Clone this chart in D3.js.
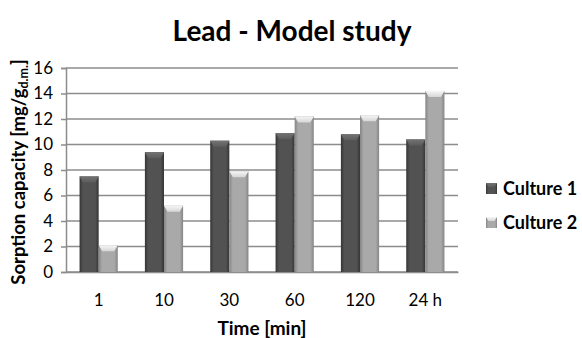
<!DOCTYPE html>
<html>
<head>
<meta charset="utf-8">
<script src="https://cdn.jsdelivr.net/npm/d3@7"></script>
<style>
  html, body { margin: 0; padding: 0; background: #fff; }
  svg { display: block; font-family: Lato, "Open Sans", sans-serif; }
</style>
</head>
<body>
<svg id="chart" width="582" height="338"></svg>
<script>
const categories = ["1", "10", "30", "60", "120", "24 h"];
const seriesNames = ["Culture 1", "Culture 2"];
const culture1 = [7.5, 9.4, 10.3, 10.9, 10.8, 10.4];
const culture2 = [2.1, 5.2, 7.9, 12.2, 12.3, 14.2];
const yTicks = [0, 2, 4, 6, 8, 10, 12, 14, 16];

const svg = d3.select("#chart");
const margin = { left: 66, right: 124, top: 68, bottom: 66 };
const W = 582, H = 338;

const x = d3.scaleBand().domain(categories).range([margin.left, W - margin.right]).paddingInner(0).paddingOuter(0);
const xs = d3.scaleBand().domain(seriesNames).range([0, x.bandwidth()]).paddingInner(0).paddingOuter(0.71);
const y = d3.scaleLinear().domain([0, 16]).range([H - margin.bottom, margin.top]);

// gradients for the bevelled bars
const defs = svg.append("defs");
const styles = [
  { id: "g0", edge: "#353535", mid: "#525252", cap: "#737373", capEdge: "#5c5c5c" },
  { id: "g1", edge: "#858585", mid: "#a9a9a9", cap: "#f6f6f6", capEdge: "#d6d6d6" }
];
styles.forEach(s => {
  const g = defs.append("linearGradient").attr("id", s.id).attr("x1", 0).attr("x2", 1).attr("y1", 0).attr("y2", 0);
  g.append("stop").attr("offset", "0%").attr("stop-color", s.edge);
  g.append("stop").attr("offset", "18%").attr("stop-color", s.mid);
  g.append("stop").attr("offset", "82%").attr("stop-color", s.mid);
  g.append("stop").attr("offset", "100%").attr("stop-color", s.edge);
  const c = defs.append("linearGradient").attr("id", s.id + "c").attr("x1", 0).attr("x2", 0).attr("y1", 0).attr("y2", 1);
  c.append("stop").attr("offset", "0%").attr("stop-color", s.cap);
  c.append("stop").attr("offset", "100%").attr("stop-color", s.capEdge);
});

// gridlines
svg.append("g").selectAll("line").data(yTicks).join("line")
  .attr("x1", margin.left).attr("x2", W - margin.right)
  .attr("y1", d => y(d)).attr("y2", d => y(d))
  .attr("stroke", "#8c8c8c").attr("stroke-width", 1.5);

// y axis
const yAxis = svg.append("g").attr("transform", `translate(${margin.left},0)`)
  .call(d3.axisLeft(y).tickValues(yTicks).tickSize(5).tickPadding(8));
yAxis.select(".domain").attr("stroke", "#8c8c8c").attr("stroke-width", 1.5);
yAxis.selectAll(".tick line").attr("stroke", "#8c8c8c").attr("stroke-width", 1.5);
yAxis.selectAll("text").attr("font-size", 17).attr("fill", "#000").attr("font-family", "Lato, sans-serif");

// x axis
const xAxis = svg.append("g").attr("transform", `translate(0,${y(0)})`)
  .call(d3.axisBottom(x).tickSize(0).tickPadding(22));
xAxis.select(".domain").attr("stroke", "#8c8c8c").attr("stroke-width", 1.5);
xAxis.selectAll("text").attr("font-size", 17).attr("fill", "#000").attr("font-family", "Lato, sans-serif");

// bars
const data = [];
categories.forEach((c, i) => {
  data.push({ cat: c, s: 0, v: culture1[i] });
  data.push({ cat: c, s: 1, v: culture2[i] });
});
const bars = svg.append("g").selectAll("g").data(data).join("g");
bars.append("rect")
  .attr("x", d => x(d.cat) + xs(seriesNames[d.s]))
  .attr("y", d => y(d.v))
  .attr("width", xs.bandwidth())
  .attr("height", d => y(0) - y(d.v))
  .attr("fill", d => `url(#g${d.s})`);
bars.append("path")
  .attr("d", d => {
    const x0 = x(d.cat) + xs(seriesNames[d.s]), x1 = x0 + xs.bandwidth(), t = y(d.v);
    return `M${x0},${t}L${x1},${t}L${x1 - 3.5},${t + 6}L${x0 + 3.5},${t + 6}Z`;
  })
  .attr("fill", d => `url(#g${d.s}c)`);

// title
svg.append("text").attr("x", 292).attr("y", 41).attr("text-anchor", "middle")
  .attr("font-size", 28).attr("font-weight", "bold").text("Lead - Model study");

// axis titles
const yt = svg.append("text").attr("transform", `translate(25,${(margin.top + y(0)) / 2 + 2}) rotate(-90)`)
  .attr("text-anchor", "middle").attr("font-size", 18.5).attr("font-weight", "bold");
yt.append("tspan").text("Sorption capacity [mg/g");
yt.append("tspan").attr("font-size", 12.5).attr("dy", 3).text("d.m.");
yt.append("tspan").attr("dy", -3).text("]");

svg.append("text").attr("x", (margin.left + W - margin.right) / 2).attr("y", 335)
  .attr("text-anchor", "middle").attr("font-size", 19).attr("font-weight", "bold").text("Time [min]");

// legend
const legend = svg.append("g").selectAll("g").data(seriesNames).join("g")
  .attr("transform", (d, i) => `translate(486,${183 + i * 34})`);
legend.append("rect").attr("width", 11).attr("height", 11).attr("fill", (d, i) => `url(#g${i})`);
legend.append("path").attr("d", "M0,0L11,0L8.5,4L2.5,4Z").attr("fill", (d, i) => `url(#g${i}c)`);
legend.append("text").attr("x", 17).attr("y", 11.5).attr("font-size", 18).attr("font-weight", "bold").text(d => d);
</script>
</body>
</html>
